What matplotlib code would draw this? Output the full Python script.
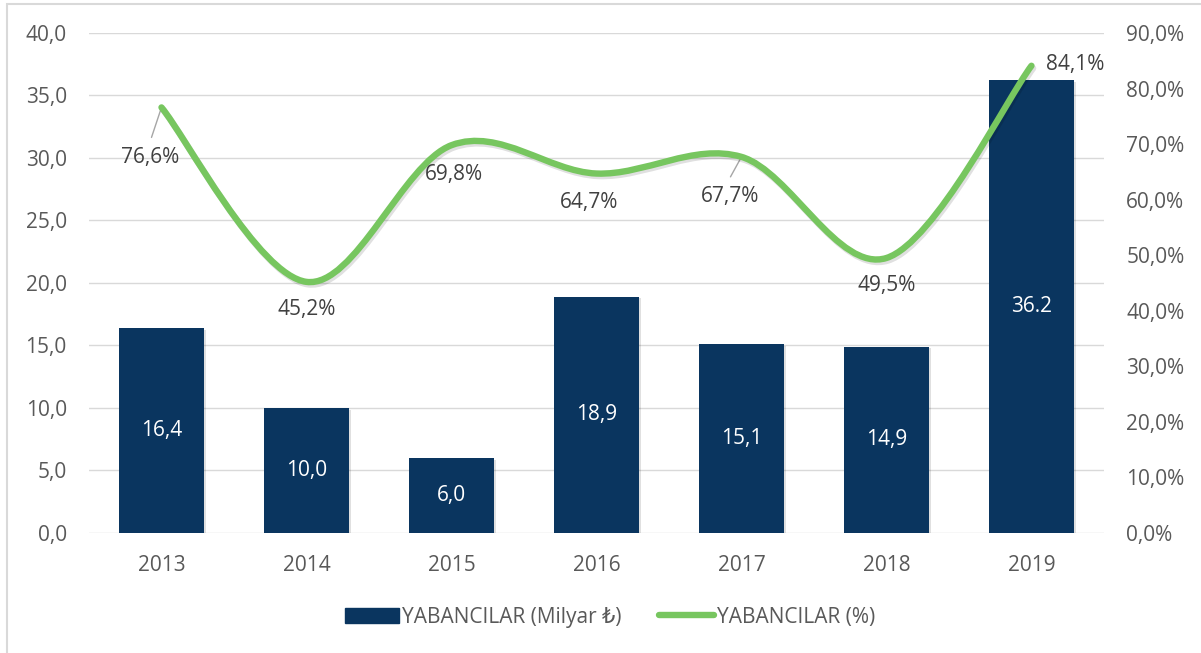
import numpy as np
import matplotlib
matplotlib.use("Agg")
import matplotlib.pyplot as plt
from matplotlib.path import Path
from matplotlib.patches import PathPatch, Rectangle
from matplotlib.lines import Line2D
from matplotlib.ticker import FuncFormatter
import matplotlib.patheffects as pe

YEARS = ["2013", "2014", "2015", "2016", "2017", "2018", "2019"]
AMOUNT = [16.4, 10.0, 6.0, 18.9, 15.1, 14.9, 36.2]
AMOUNT_LABELS = ["16,4", "10,0", "6,0", "18,9", "15,1", "14,9", "36.2"]
SHARE = [76.6, 45.2, 69.8, 64.7, 67.7, 49.5, 84.1]
SHARE_LABELS = ["76,6%", "45,2%", "69,8%", "64,7%", "67,7%", "49,5%", "84,1%"]

BAR_NAME = "YABANCILAR (Milyar ₺)"
LINE_NAME = "YABANCILAR (%)"

NAVY = "#0A355F"
GREEN = "#77C65F"
TICK_GRAY = "#595959"
LABEL_GRAY = "#404040"
GRID = "#D9D9D9"

# pixel offsets of the % labels relative to their points
LABEL_OFFSETS = [(-11, -50), (0, -28), (2, -29), (-7, -29), (-11, -40), (0, -28), (44, 1)]

plt.rcParams["font.family"] = ["Open Sans", "DejaVu Sans"]
FS = 15


def smooth_path(xs, ys):
    # Catmull-Rom style bezier, like the spreadsheet "smoothed line"
    pts = np.column_stack([xs, ys]).astype(float)
    n = len(pts)
    verts = [pts[0]]
    codes = [Path.MOVETO]
    for i in range(n - 1):
        p0 = pts[max(i - 1, 0)]
        p1 = pts[i]
        p2 = pts[i + 1]
        p3 = pts[min(i + 2, n - 1)]
        c1 = p1 + (p2 - p0) / 6.0
        c2 = p2 - (p3 - p1) / 6.0
        verts += [c1, c2, p2]
        codes += [Path.CURVE4] * 3
    return Path(verts, codes)


def main():
    fig = plt.figure(figsize=(12.01, 6.53), dpi=100)
    ax = fig.add_axes([0.0741, 0.1838, 0.8451, 0.7657])
    ax2 = ax.twinx()

    x = np.arange(len(YEARS))

    bars = ax.bar(x, AMOUNT, width=0.59, color=NAVY, zorder=3)
    for b in bars:
        b.set_path_effects([pe.SimplePatchShadow(offset=(1.2, -1.2), shadow_rgbFace="k", alpha=0.12), pe.Normal()])
    for xi, v, lab in zip(x, AMOUNT, AMOUNT_LABELS):
        ax.text(xi, v / 2, lab, ha="center", va="center", color="white", fontsize=FS, zorder=4)

    ax.set_xlim(-0.5, len(YEARS) - 0.5)
    ax.set_ylim(0, 40)
    ax.set_yticks(np.arange(0, 40.1, 5))
    ax.yaxis.set_major_formatter(FuncFormatter(lambda v, p: f"{v:.1f}".replace(".", ",")))
    ax.set_xticks(x)
    ax.set_xticklabels(YEARS)
    ax.grid(axis="y", color=GRID, lw=1.0, zorder=0)
    ax.set_axisbelow(True)

    ax2.set_ylim(0, 90)
    ax2.set_yticks(np.arange(0, 90.1, 10))
    ax2.yaxis.set_major_formatter(FuncFormatter(lambda v, p: f"{v:.1f}%".replace(".", ",")))

    for a in (ax, ax2):
        for s in a.spines.values():
            s.set_visible(False)
        a.tick_params(length=0, labelsize=FS, colors=TICK_GRAY)
    ax.tick_params(axis="y", pad=16)
    ax.tick_params(axis="x", pad=16)
    ax2.tick_params(axis="y", pad=16)

    curve = PathPatch(smooth_path(x, SHARE), transform=ax2.transData, fill=False,
                      edgecolor=GREEN, lw=4.6, capstyle="round", joinstyle="round", zorder=5)
    curve.set_path_effects([pe.SimpleLineShadow(offset=(1.2, -1.8), shadow_color="k", alpha=0.12), pe.Normal()])
    ax2.add_patch(curve)

    for i, (xi, v, lab) in enumerate(zip(x, SHARE, SHARE_LABELS)):
        dx, dy = LABEL_OFFSETS[i]
        ax2.annotate(lab, (xi, v), xytext=(dx, dy), textcoords="offset pixels",
                     ha="center", va="center", fontsize=FS, color=LABEL_GRAY, zorder=6)
    # leader lines for the two labels pulled away from their points
    for i, (sx, sy) in [(0, (-10, -30)), (4, (-11, -20))]:
        ax2.annotate("", (x[i], SHARE[i]), xytext=(sx, sy), textcoords="offset pixels",
                     arrowprops=dict(arrowstyle="-", color="#A6A6A6", lw=1.0, shrinkA=0, shrinkB=0))

    handles = [Rectangle((0, 0), 1, 1, color=NAVY), Line2D([], [], color=GREEN, lw=4.6, solid_capstyle="round")]
    fig.legend(handles, [BAR_NAME, LINE_NAME], loc="center", bbox_to_anchor=(0.508, 0.055), ncol=2,
               frameon=False, fontsize=FS, labelcolor=TICK_GRAY, handlelength=2.6, handletextpad=0.15,
               columnspacing=1.8)

    # outer chart border
    fig.patches.append(Rectangle((7 / 1201, -0.1), 1.2, 1.1 - 4 / 653, transform=fig.transFigure,
                                 fill=False, edgecolor="#D9D9D9", lw=1.5, clip_on=False))

    fig.savefig("out.png", dpi=100)


if __name__ == "__main__":
    main()
